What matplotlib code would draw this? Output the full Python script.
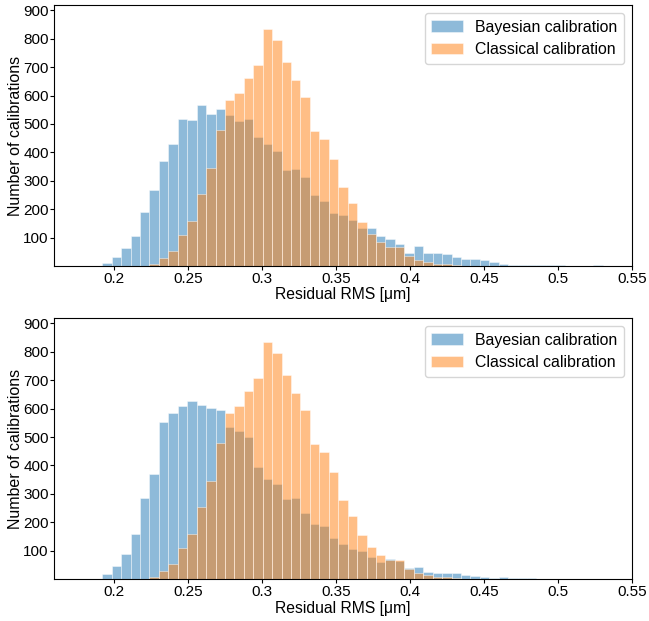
import numpy as np
import matplotlib.pyplot as plt

plt.rcParams['font.family'] = ['Liberation Sans', 'DejaVu Sans']
plt.rcParams['font.size'] = 11
plt.rcParams['xtick.major.size'] = 2.9
plt.rcParams['ytick.major.size'] = 2.9
plt.rcParams['xtick.major.pad'] = 1.5
plt.rcParams['ytick.major.pad'] = 0.8

# histogram bins (shared by both series)
bin_start = 0.19191
bin_width = 0.006381
n_bins = 53

# counts per bin, top panel (Bayesian)
bayes_top = [9, 31, 65, 107, 190, 266, 370, 428, 517, 513,
             566, 534, 553, 531, 511, 517, 455, 430, 404, 337,
             343, 312, 249, 229, 188, 179, 161, 132, 135, 105,
             96, 79, 47, 72, 46, 45, 41, 32, 25, 25,
             21, 14, 8, 4, 3, 3, 3, 3, 3, 0,
             0, 0, 3]

# counts per bin, bottom panel (Bayesian)
bayes_bottom = [16, 45, 89, 160, 286, 371, 553, 585, 609, 627,
                614, 603, 594, 535, 521, 500, 393, 351, 333, 283,
                285, 232, 195, 186, 145, 123, 104, 99, 78, 61,
                70, 62, 39, 42, 25, 20, 21, 20, 13, 12,
                8, 5, 6, 4, 3, 3, 0, 0, 0, 0,
                0, 0, 0]

# counts per bin, classical calibration (same in both panels)
classical = [0, 0, 0, 0, 0, 8, 28, 53, 108, 158,
             254, 344, 479, 583, 610, 661, 707, 833, 796, 718,
             656, 596, 474, 448, 376, 277, 222, 155, 113, 85,
             68, 66, 36, 22, 13, 7, 6, 4, 1, 1,
             0, 0, 0, 0, 0, 0, 0, 0, 0, 0,
             0, 0, 0]

xticks = [0.2, 0.25, 0.3, 0.35, 0.4, 0.45, 0.5, 0.55]
yticks = [100, 200, 300, 400, 500, 600, 700, 800, 900]

edges = bin_start + bin_width * np.arange(n_bins + 1)
centers = 0.5 * (edges[:-1] + edges[1:])

fig = plt.figure(figsize=(6.49, 6.21), dpi=100)
ax_top = fig.add_axes([0.0832, 0.5717, 0.8906, 0.4198])
ax_bot = fig.add_axes([0.0832, 0.0676, 0.8906, 0.4198])

for ax, bayes in [(ax_top, bayes_top), (ax_bot, bayes_bottom)]:
    ax.hist(centers, bins=edges, weights=bayes, alpha=0.5,
            color='#1f77b4', ec='white', lw=0.6, label='Bayesian calibration')
    ax.hist(centers, bins=edges, weights=classical, alpha=0.5,
            color='#ff7f0e', ec='white', lw=0.6, label='Classical calibration')
    ax.set_xlim(0.1593, 0.55)
    ax.set_ylim(0, 918)
    ax.set_xticks(xticks)
    ax.set_xticklabels(['{:g}'.format(t) for t in xticks])
    ax.set_yticks(yticks)
    ax.set_xlabel('Residual RMS [μm]', fontsize=11.3, labelpad=1)
    ax.set_ylabel('Number of calibrations', fontsize=11.5, labelpad=0.5)
    ax.legend(loc='upper right', fontsize=11.4)

fig.savefig('out.png', dpi=100)
